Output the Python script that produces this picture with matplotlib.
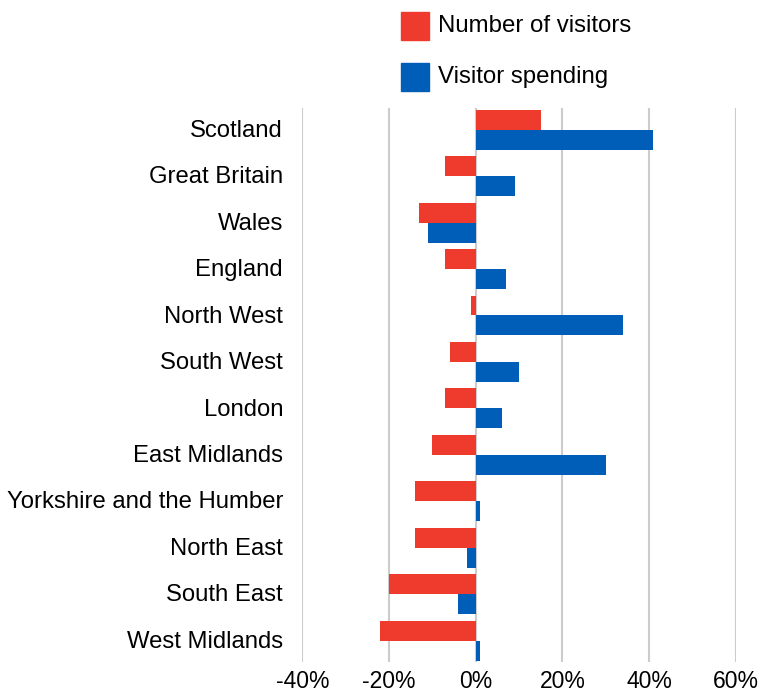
import matplotlib
matplotlib.use('Agg')
import matplotlib.pyplot as plt
from matplotlib.patches import Rectangle
import numpy as np

# percentage change by region
regions = ['Scotland', 'Great Britain', 'Wales', 'England', 'North West',
           'South West', 'London', 'East Midlands', 'Yorkshire and the Humber',
           'North East', 'South East', 'West Midlands']
visitors = [15, -7, -13, -7, -1, -6, -7, -10, -14, -14, -20, -22]
spending = [41, 9, -11, 7, 34, 10, 6, 30, 1, -2, -4, 1]
xticks = [-40, -20, 0, 20, 40, 60]

red = '#EF3B2D'
blue = '#005EB8'

plt.rcParams['font.family'] = ['Liberation Sans', 'DejaVu Sans']

fig = plt.figure(figsize=(7.6, 6.94), dpi=100)
ax = fig.add_axes([0.398, 0.046, 0.570, 0.798])

y = np.arange(len(regions))
h = 0.43
ax.barh(y - h / 2, visitors, height=h, color=red, zorder=3)
ax.barh(y + h / 2, spending, height=h, color=blue, zorder=3)

ax.set_xlim(-40, 60)
ax.set_ylim(len(regions) - 1 + 0.46, -0.46)
ax.set_xticks(xticks)
ax.set_xticklabels(['%d%%' % v for v in xticks])
ax.set_yticks(y - 0.03)
ax.set_yticklabels(regions)
ax.tick_params(axis='x', length=0, labelsize=16.5, pad=6)
ax.tick_params(axis='y', length=0, labelsize=17.2, pad=14)
for s in ax.spines.values():
    s.set_visible(False)
ax.grid(axis='x', color='#cccccc', linewidth=1.5, zorder=0)

# legend drawn by hand above the plot
W, H = 760.0, 694.0
for i, (lab, col) in enumerate([('Number of visitors', red), ('Visitor spending', blue)]):
    top = 12 + i * 51
    fig.patches.append(Rectangle((401 / W, 1 - (top + 28) / H), 28 / W, 28 / H,
                                 transform=fig.transFigure, color=col))
    fig.text(438 / W, 1 - (top + 14) / H, lab, fontsize=17.3, va='center', ha='left')

fig.savefig('out.png', dpi=100)
